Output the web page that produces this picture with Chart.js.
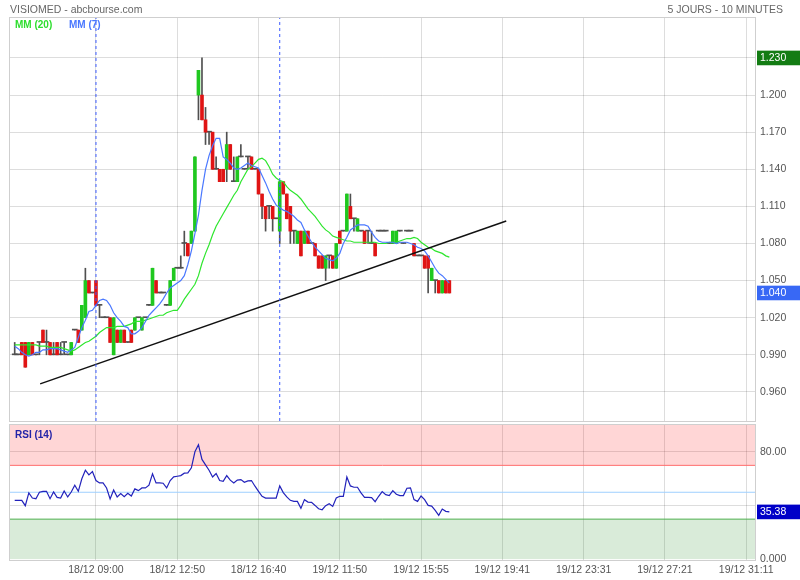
<!DOCTYPE html>
<html>
<head>
<meta charset="utf-8">
<script src="https://cdn.jsdelivr.net/npm/chart.js@4/dist/chart.umd.min.js"></script>
<style>
  body { margin: 0; background: #fff; font-family: "Liberation Sans", Arial, sans-serif; }
  #wrap { position: relative; width: 800px; height: 580px; overflow: hidden; }
  canvas { position: absolute; left: 0; }
  .txt { position: absolute; white-space: nowrap; font-size: 10.5px; color: #666; line-height: 12px; }
  .leg { font-size: 10px; font-weight: bold; }
</style>
</head>
<body>
<div id="wrap">
  <canvas id="priceChart" width="800" height="425" style="top:0"></canvas>
  <canvas id="rsiChart" width="800" height="160" style="top:420px"></canvas>
  <div class="txt" style="left:10px;top:3px">VISIOMED - abcbourse.com</div>
  <div class="txt" style="right:17px;top:3px">5 JOURS - 10 MINUTES</div>
  <div class="txt leg" style="left:15px;top:19px;color:#2ede2e">MM (20)</div>
  <div class="txt leg" style="left:69px;top:19px;color:#4a78ff">MM (7)</div>
  <div class="txt leg" style="left:15px;top:429px;color:#2323a8">RSI (14)</div>
</div>
<script>
// x positions are bar numbers (10 minute bars), ticks every 23 bars
const xTickIdx = [23, 46, 69, 92, 115, 138, 161, 184, 207];
const xTickLabels = ['18/12 09:00', '18/12 12:50', '18/12 16:40', '19/12 11:50', '19/12 15:55',
  '19/12 19:41', '19/12 23:31', '19/12 27:21', '19/12 31:11'];
const daySeparators = [23, 75];

const opens = [
  0.99, 0.99, 1.00, 1.00, 0.99, 1.00, 0.99, 1.00, 1.01, 1.00,
  1.00, 0.99, 1.00, 0.99, 1.00, 0.99, 0.99, 1.01, 1.01, 1.01,
  1.02, 1.05, 1.04, 1.05, 1.03, 1.02, 1.02, 1.02, 0.99, 1.01,
  1.00, 1.01, 1.00, 1.01, 1.01, 1.02, 1.01, 1.02, 1.03, 1.03,
  1.05, 1.04, 1.04, 1.03, 1.03, 1.05, 1.06, 1.06, 1.08, 1.08,
  1.08, 1.09, 1.20, 1.20, 1.18, 1.17, 1.17, 1.14, 1.14, 1.14,
  1.14, 1.16, 1.13, 1.13, 1.15, 1.14, 1.15, 1.15, 1.14, 1.14,
  1.12, 1.11, 1.11, 1.11, 1.10, 1.09, 1.13, 1.12, 1.11, 1.09,
  1.08, 1.09, 1.08, 1.09, 1.08, 1.08, 1.07, 1.07, 1.06, 1.07,
  1.07, 1.06, 1.09, 1.09, 1.09, 1.11, 1.10, 1.09, 1.09, 1.09,
  1.09, 1.08, 1.08, 1.09, 1.09, 1.09, 1.08, 1.08, 1.08, 1.09,
  1.08, 1.09, 1.09, 1.08, 1.07, 1.07, 1.07, 1.07, 1.05, 1.05,
  1.05, 1.04, 1.05, 1.05
];
const highs = [
  1.00, 0.99, 1.00, 1.00, 1.00, 1.00, 0.99, 1.00, 1.01, 1.01,
  1.00, 1.00, 1.00, 1.00, 1.00, 0.99, 1.00, 1.01, 1.01, 1.03,
  1.06, 1.05, 1.04, 1.05, 1.03, 1.02, 1.02, 1.02, 1.02, 1.01,
  1.01, 1.01, 1.00, 1.01, 1.02, 1.02, 1.02, 1.02, 1.03, 1.06,
  1.05, 1.04, 1.04, 1.03, 1.05, 1.06, 1.06, 1.07, 1.09, 1.08,
  1.09, 1.15, 1.22, 1.23, 1.19, 1.17, 1.17, 1.15, 1.14, 1.14,
  1.17, 1.16, 1.15, 1.15, 1.16, 1.14, 1.15, 1.15, 1.14, 1.14,
  1.12, 1.11, 1.11, 1.11, 1.10, 1.13, 1.13, 1.12, 1.11, 1.09,
  1.09, 1.09, 1.09, 1.09, 1.08, 1.08, 1.07, 1.07, 1.07, 1.07,
  1.07, 1.08, 1.09, 1.09, 1.12, 1.12, 1.10, 1.10, 1.09, 1.09,
  1.09, 1.09, 1.08, 1.09, 1.09, 1.09, 1.08, 1.09, 1.09, 1.09,
  1.08, 1.09, 1.09, 1.08, 1.07, 1.07, 1.07, 1.07, 1.06, 1.05,
  1.05, 1.05, 1.05, 1.05
];
const lows = [
  0.99, 0.99, 0.99, 0.98, 0.99, 0.99, 0.99, 0.99, 1.00, 0.99,
  0.99, 0.99, 0.99, 0.99, 0.99, 0.99, 0.99, 1.01, 1.00, 1.01,
  1.02, 1.04, 1.04, 1.03, 1.02, 1.02, 1.02, 1.00, 0.99, 1.00,
  1.00, 1.00, 1.00, 1.00, 1.01, 1.02, 1.01, 1.02, 1.03, 1.03,
  1.04, 1.04, 1.04, 1.03, 1.03, 1.05, 1.06, 1.06, 1.07, 1.07,
  1.08, 1.09, 1.18, 1.18, 1.16, 1.16, 1.14, 1.14, 1.13, 1.13,
  1.13, 1.14, 1.13, 1.13, 1.15, 1.14, 1.14, 1.14, 1.14, 1.12,
  1.10, 1.09, 1.10, 1.09, 1.10, 1.08, 1.12, 1.10, 1.08, 1.08,
  1.08, 1.07, 1.08, 1.08, 1.08, 1.07, 1.06, 1.06, 1.05, 1.06,
  1.06, 1.06, 1.08, 1.09, 1.09, 1.10, 1.09, 1.09, 1.09, 1.08,
  1.08, 1.08, 1.07, 1.09, 1.09, 1.09, 1.08, 1.08, 1.08, 1.09,
  1.08, 1.09, 1.09, 1.07, 1.07, 1.07, 1.06, 1.04, 1.05, 1.04,
  1.04, 1.04, 1.04, 1.04
];
const closes = [
  0.99, 0.99, 0.99, 0.98, 1.00, 0.99, 0.99, 1.00, 1.00, 1.00,
  0.99, 0.99, 0.99, 0.99, 1.00, 0.99, 1.00, 1.01, 1.00, 1.03,
  1.05, 1.04, 1.04, 1.03, 1.03, 1.02, 1.02, 1.00, 1.02, 1.00,
  1.01, 1.00, 1.00, 1.00, 1.02, 1.02, 1.02, 1.02, 1.03, 1.06,
  1.04, 1.04, 1.04, 1.03, 1.05, 1.06, 1.06, 1.06, 1.08, 1.07,
  1.09, 1.15, 1.22, 1.18, 1.17, 1.17, 1.14, 1.14, 1.13, 1.13,
  1.16, 1.14, 1.13, 1.15, 1.15, 1.14, 1.15, 1.14, 1.14, 1.12,
  1.11, 1.10, 1.11, 1.10, 1.10, 1.13, 1.12, 1.10, 1.09, 1.09,
  1.09, 1.07, 1.09, 1.08, 1.08, 1.07, 1.06, 1.06, 1.07, 1.07,
  1.06, 1.08, 1.08, 1.09, 1.12, 1.10, 1.10, 1.10, 1.09, 1.08,
  1.09, 1.08, 1.07, 1.09, 1.09, 1.09, 1.08, 1.09, 1.09, 1.09,
  1.08, 1.09, 1.09, 1.07, 1.07, 1.07, 1.06, 1.06, 1.06, 1.05,
  1.04, 1.05, 1.04, 1.04
];

// moving averages
const mm20 = [
  0.998, 0.998, 0.998, 0.998, 0.998, 0.998, 0.998, 0.997, 0.997, 0.997,
  0.996, 0.996, 0.996, 0.996, 0.995, 0.994, 0.993, 0.994, 0.996, 0.998,
  1.000, 1.001, 1.003, 1.005, 1.008, 1.010, 1.012, 1.012, 1.012, 1.013,
  1.013, 1.013, 1.014, 1.015, 1.017, 1.017, 1.017, 1.018, 1.019, 1.020,
  1.021, 1.022, 1.022, 1.024, 1.025, 1.026, 1.026, 1.030, 1.035, 1.039,
  1.043, 1.047, 1.054, 1.064, 1.072, 1.079, 1.087, 1.094, 1.099, 1.104,
  1.109, 1.114, 1.119, 1.123, 1.130, 1.135, 1.140, 1.142, 1.145, 1.148,
  1.149, 1.147, 1.142, 1.136, 1.133, 1.131, 1.130, 1.126, 1.123, 1.121,
  1.119, 1.116, 1.112, 1.108, 1.105, 1.102, 1.098, 1.094, 1.091, 1.089,
  1.086, 1.085, 1.084, 1.083, 1.082, 1.082, 1.081, 1.081, 1.081, 1.081,
  1.081, 1.081, 1.081, 1.080, 1.080, 1.080, 1.081, 1.081, 1.081, 1.082,
  1.083, 1.084, 1.084, 1.085, 1.084, 1.081, 1.079, 1.077, 1.076, 1.074,
  1.073, 1.072, 1.070, 1.069
];
const mm7 = [
  0.997, 0.995, 0.992, 0.990, 0.989, 0.990, 0.992, 0.992, 0.994, 0.994,
  0.995, 0.995, 0.995, 0.994, 0.993, 0.992, 0.994, 0.996, 1.004, 1.012,
  1.018, 1.025, 1.026, 1.030, 1.034, 1.035, 1.034, 1.030, 1.024, 1.020,
  1.017, 1.013, 1.012, 1.007, 1.007, 1.009, 1.012, 1.017, 1.022, 1.025,
  1.028, 1.031, 1.035, 1.040, 1.044, 1.046, 1.048, 1.050, 1.054, 1.063,
  1.074, 1.088, 1.103, 1.123, 1.140, 1.151, 1.159, 1.165, 1.165, 1.150,
  1.148, 1.145, 1.141, 1.140, 1.141, 1.143, 1.145, 1.143, 1.142, 1.141,
  1.135, 1.129, 1.122, 1.116, 1.111, 1.109, 1.107, 1.106, 1.104, 1.102,
  1.099, 1.097, 1.091, 1.086, 1.081, 1.077, 1.074, 1.071, 1.068, 1.067,
  1.066, 1.068, 1.072, 1.080, 1.085, 1.091, 1.093, 1.095, 1.095, 1.095,
  1.094, 1.089, 1.085, 1.082, 1.081, 1.081, 1.081, 1.081, 1.080, 1.081,
  1.081, 1.081, 1.080, 1.079, 1.077, 1.076, 1.074, 1.070, 1.065, 1.060,
  1.056, 1.054, 1.051, 1.048
];
const rsi14 = [
  44.0, 44.0, 44.0, 40.0, 49.5, 45.7, 45.2, 50.0, 50.7, 50.7,
  45.2, 50.2, 46.2, 45.7, 51.0, 46.5, 50.2, 55.2, 50.7, 60.0,
  66.4, 62.9, 65.4, 58.7, 56.9, 56.9, 53.2, 45.0, 51.7, 46.5,
  49.0, 46.7, 49.2, 47.2, 52.5, 51.2, 53.2, 53.2, 55.2, 63.7,
  56.9, 56.9, 56.7, 53.2, 58.7, 61.4, 61.9, 62.4, 64.2, 64.4,
  68.2, 80.1, 85.3, 74.4, 70.4, 66.4, 61.4, 63.9, 58.7, 58.2,
  62.4, 59.0, 56.9, 59.0, 59.4, 57.4, 58.4, 58.7, 54.5, 50.7,
  47.0, 45.7, 45.7, 45.7, 45.7, 54.7, 49.7, 46.5, 44.0, 43.2,
  43.2, 38.0, 44.5, 42.7, 42.5, 40.2, 37.7, 37.0, 40.0, 41.5,
  39.5, 45.7, 47.0, 47.0, 61.4, 54.7, 53.7, 53.7, 49.5, 46.2,
  46.2, 46.0, 43.0, 47.0, 50.5, 48.2, 47.5, 51.2, 48.5, 47.5,
  47.5, 53.0, 53.2, 44.5, 43.2, 47.2, 44.5, 40.2, 39.7, 36.5,
  32.8, 37.5, 35.8, 35.38
];

// hand drawn support line (bar, price)
const trendStart = [7.2, 0.9665];
const trendEnd = [139.1, 1.0982];

const priceTicks = [0.96, 0.99, 1.02, 1.05, 1.08, 1.11, 1.14, 1.17, 1.20, 1.23];
const rsiTicks = [0, 40, 80];
const rsiLabelled = [0, 80];
const rsiHigh = 70;
const rsiMid = 50;
const rsiLow = 30;

const X_MIN = -1.33, X_MAX = 209.5;
const P_MIN = 0.9365, P_MAX = 1.2623;

const FONT = '"Liberation Sans", Arial, sans-serif';
const GRID = 'rgba(0,0,0,0.135)';
const UP = '#1fc81f';
const DOWN = '#e01414';

const idx = closes.map((_, i) => i);
const lastClose = closes[closes.length - 1];
const topHigh = Math.max(...highs);
const lastRsi = rsi14[rsi14.length - 1];

const bodyIdx = idx.filter(i => opens[i] !== closes[i]);
const dojiIdx = idx.filter(i => opens[i] === closes[i]);

const framePlugin = {
  id: 'frame',
  afterDatasetsDraw(chart) {
    const { ctx, chartArea: a } = chart;
    ctx.save();
    ctx.strokeStyle = '#cfcfcf';
    ctx.lineWidth = 1;
    ctx.strokeRect(Math.round(a.left) - 0.5, Math.round(a.top) - 0.5,
      Math.round(a.right - a.left) + 1, Math.round(a.bottom - a.top) + 1);
    ctx.restore();
  }
};

const baseOptions = {
  responsive: false,
  animation: false,
  events: [],
  plugins: { legend: { display: false }, tooltip: { enabled: false } }
};

function hLine(y, color) {
  return [{ x: X_MIN, y }, { x: X_MAX, y }];
}

new Chart(document.getElementById('priceChart'), {
  type: 'bar',
  data: {
    datasets: [
      ...daySeparators.map(d => ({
        type: 'line',
        data: [{ x: d, y: P_MIN }, { x: d, y: P_MAX }],
        borderColor: '#3d5cff',
        borderWidth: 1,
        borderDash: [3, 3],
        pointRadius: 0,
        order: 0
      })),
      {
        type: 'line',
        data: [{ x: trendStart[0], y: trendStart[1] }, { x: trendEnd[0], y: trendEnd[1] }],
        borderColor: '#111',
        borderWidth: 1.5,
        pointRadius: 0,
        order: 1
      },
      {
        type: 'line',
        data: idx.map(i => ({ x: i, y: mm7[i] })),
        borderColor: '#4a78ff',
        borderWidth: 1.2,
        pointRadius: 0,
        order: 2
      },
      {
        type: 'line',
        data: idx.map(i => ({ x: i, y: mm20[i] })),
        borderColor: '#2ee62e',
        borderWidth: 1.2,
        pointRadius: 0,
        order: 3
      },
      {
        data: bodyIdx.map(i => ({ x: i, y: [opens[i], closes[i]] })),
        backgroundColor: bodyIdx.map(i => (closes[i] > opens[i] ? UP : DOWN)),
        barThickness: 3,
        grouped: false,
        order: 4
      },
      {
        data: dojiIdx.map(i => ({ x: i, y: [opens[i], closes[i]] })),
        backgroundColor: '#505050',
        barThickness: 5,
        minBarLength: 1,
        grouped: false,
        order: 4
      },
      {
        data: idx.map(i => ({ x: i, y: [lows[i], highs[i]] })),
        backgroundColor: '#505050',
        barThickness: 1,
        grouped: false,
        order: 5
      }
    ]
  },
  options: {
    ...baseOptions,
    layout: { padding: { left: 10, right: 0, top: 18, bottom: 4 } },
    scales: {
      x: {
        type: 'linear',
        min: X_MIN,
        max: X_MAX,
        offset: false,
        afterBuildTicks: s => { s.ticks = xTickIdx.map(v => ({ value: v })); },
        afterFit: s => { s.height = 0; },
        ticks: { display: false },
        grid: { color: GRID, drawTicks: false, offset: false },
        border: { display: false }
      },
      y: {
        type: 'linear',
        position: 'right',
        min: P_MIN,
        max: P_MAX,
        afterBuildTicks: s => {
          s.ticks = [...priceTicks, lastClose].sort((a, b) => a - b).map(v => ({ value: v }));
        },
        afterFit: s => { s.width = 45; s.paddingTop = 0; s.paddingBottom = 0; },
        ticks: {
          autoSkip: false,
          padding: 5,
          font: { family: FONT, size: 10.5 },
          color: c => (c.tick && (c.tick.value === topHigh || c.tick.value === lastClose) ? '#fff' : '#555'),
          showLabelBackdrop: c => !!(c.tick && (c.tick.value === topHigh || c.tick.value === lastClose)),
          backdropColor: c => (c.tick && c.tick.value === topHigh ? '#137c13' : '#3868f5'),
          backdropPadding: { top: 1, bottom: 1, left: 3, right: 14 },
          callback: v => Number(v).toFixed(3)
        },
        grid: {
          color: c => (c.tick && c.tick.value === lastClose ? 'rgba(0,0,0,0)' : GRID),
          drawTicks: false
        },
        border: { display: false }
      }
    }
  },
  plugins: [framePlugin]
});

new Chart(document.getElementById('rsiChart'), {
  type: 'line',
  data: {
    datasets: [
      {
        data: idx.map(i => ({ x: i, y: rsi14[i] })),
        borderColor: '#2222bb',
        borderWidth: 1.2,
        pointRadius: 0
      },
      {
        data: hLine(rsiMid),
        borderColor: '#9fd0ff',
        borderWidth: 1,
        pointRadius: 0
      },
      {
        data: hLine(rsiHigh),
        borderColor: '#ff6b6b',
        borderWidth: 1,
        pointRadius: 0,
        fill: 'end',
        backgroundColor: 'rgba(255,0,0,0.16)'
      },
      {
        data: hLine(rsiLow),
        borderColor: '#4caf4c',
        borderWidth: 1,
        pointRadius: 0,
        fill: 'start',
        backgroundColor: 'rgba(0,120,0,0.15)'
      }
    ]
  },
  options: {
    ...baseOptions,
    layout: { padding: { left: 10, right: 0, top: 5, bottom: 0 } },
    scales: {
      x: {
        type: 'linear',
        min: X_MIN,
        max: X_MAX,
        afterBuildTicks: s => { s.ticks = xTickIdx.map(v => ({ value: v })); },
        afterFit: s => { s.height = 20.5; },
        ticks: {
          autoSkip: false,
          maxRotation: 0,
          padding: 4,
          color: '#555',
          font: { family: FONT, size: 10.5 },
          callback: v => xTickLabels[xTickIdx.indexOf(v)]
        },
        grid: { color: GRID, drawTicks: false },
        border: { display: false }
      },
      y: {
        type: 'linear',
        position: 'right',
        min: 0,
        max: 100,
        afterBuildTicks: s => {
          s.ticks = [...rsiTicks, lastRsi].sort((a, b) => a - b).map(v => ({ value: v }));
        },
        afterFit: s => { s.width = 45; s.paddingTop = 0; s.paddingBottom = 0; },
        ticks: {
          autoSkip: false,
          padding: 5,
          font: { family: FONT, size: 10.5 },
          color: c => (c.tick && c.tick.value === lastRsi ? '#fff' : '#555'),
          showLabelBackdrop: c => !!(c.tick && c.tick.value === lastRsi),
          backdropColor: '#0000c8',
          backdropPadding: { top: 1, bottom: 1, left: 3, right: 14 },
          callback: v => (rsiLabelled.includes(v) || v === lastRsi ? Number(v).toPrecision(4) : '')
        },
        grid: {
          color: c => (c.tick && (c.tick.value === lastRsi || c.tick.value === 0) ? 'rgba(0,0,0,0)' : GRID),
          drawTicks: false
        },
        border: { display: false }
      }
    }
  },
  plugins: [framePlugin]
});
</script>
</body>
</html>
